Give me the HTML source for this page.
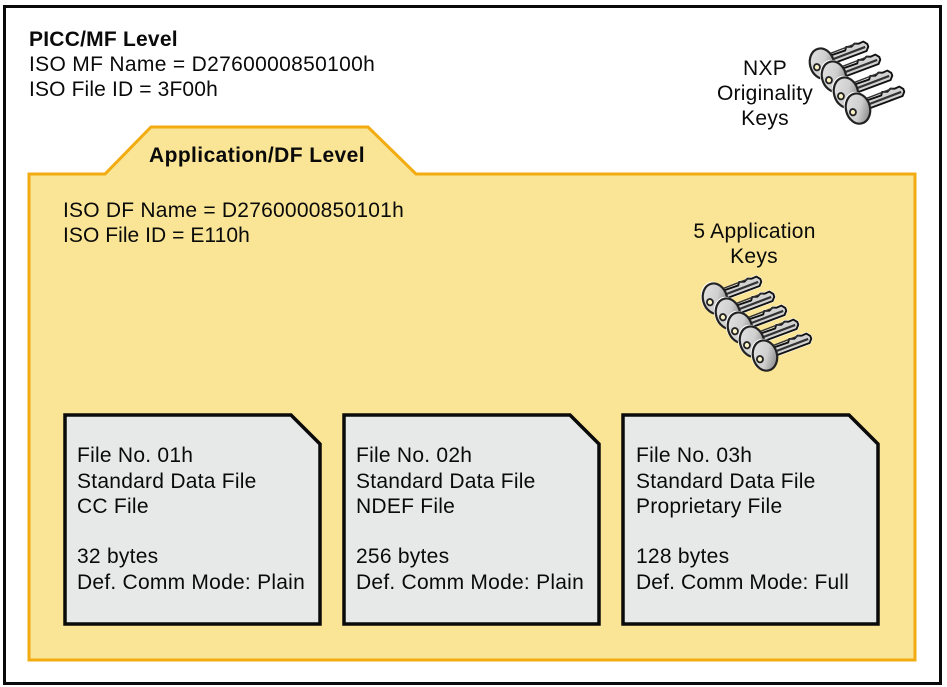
<!DOCTYPE html>
<html>
<head>
<meta charset="utf-8">
<style>
html,body{margin:0;padding:0;background:#fff;width:947px;height:687px;overflow:hidden}
svg{display:block}
text{font-family:"Liberation Sans",sans-serif;font-size:21px;letter-spacing:.25px;fill:#0a0a0a}
.b{font-weight:bold;letter-spacing:.4px}
</style>
</head>
<body>
<svg width="947" height="687" viewBox="0 0 947 687" xmlns="http://www.w3.org/2000/svg">
<defs>
<linearGradient id="hg" x1="0" y1="0" x2="1" y2="0.7">
<stop offset="0" stop-color="#e6e6e6"/>
<stop offset="0.62" stop-color="#cfcfcf"/>
<stop offset="1" stop-color="#8a8a8a"/>
</linearGradient>
<g id="key">
<path d="M8,-4 L27,-4 L29,-7 L34,-5.5 L38,-7.5 L42,-6 L47,-6.5 L50,-3 L50,0 L47,3.5 L8,4.5 Z" fill="none" stroke="#fff" stroke-width="3" stroke-linejoin="round"/>
<path d="M8,-4 L27,-4 L29,-7 L34,-5.5 L38,-7.5 L42,-6 L47,-6.5 L50,-3 L50,0 L47,3.5 L8,4.5 Z" fill="#d2d2d2" stroke="#111" stroke-width="1.9" stroke-linejoin="round"/>
<path d="M10,0.4 L47,-0.8" stroke="#333" stroke-width="2.2" fill="none"/>
<path d="M12,-6 L40,-7" stroke="#333" stroke-width="1.4" fill="none"/>
<g transform="rotate(4)">
<ellipse cx="0" cy="0" rx="13" ry="16.5" fill="#fff"/>
<ellipse cx="0.8" cy="0.8" rx="12" ry="15.3" fill="url(#hg)" stroke="#222" stroke-width="2.2"/>
<ellipse cx="-5" cy="3" rx="3" ry="3.2" fill="#fbf3c8" stroke="#222" stroke-width="1.8"/>
</g>
</g>
</defs>

<rect x="4.5" y="6.5" width="936" height="677" fill="#fff" stroke="#0a0a0a" stroke-width="3"/>

<text class="b" x="29" y="46" textLength="149">PICC/MF Level</text>
<text x="29" y="71" textLength="346">ISO MF Name = D2760000850100h</text>
<text x="29" y="96" textLength="189">ISO File ID = 3F00h</text>

<text x="765" y="75" text-anchor="middle">NXP</text>
<text x="765" y="100" text-anchor="middle">Originality</text>
<text x="765" y="125" text-anchor="middle">Keys</text>

<use href="#key" transform="translate(821,63) rotate(-19)"/>
<use href="#key" transform="translate(833,76) rotate(-19)"/>
<use href="#key" transform="translate(845,92) rotate(-19)"/>
<use href="#key" transform="translate(857,108) rotate(-19)"/>

<path d="M29,174 H105 L151,127 H368 L416,174 H915 V660 H29 Z" fill="#f9e595" stroke="#f2ab10" stroke-width="3" stroke-linejoin="miter"/>

<text class="b" x="149" y="162" textLength="216">Application/DF Level</text>
<text x="63" y="217" textLength="341">ISO DF Name = D2760000850101h</text>
<text x="63" y="242" textLength="187">ISO File ID = E110h</text>

<text x="754.500" y="238" text-anchor="middle">5 Application</text>
<text x="754" y="263" text-anchor="middle">Keys</text>

<use href="#key" transform="translate(714,298) rotate(-19)"/>
<use href="#key" transform="translate(727,313) rotate(-19)"/>
<use href="#key" transform="translate(739,327) rotate(-19)"/>
<use href="#key" transform="translate(751,341) rotate(-19)"/>
<use href="#key" transform="translate(764,355) rotate(-19)"/>

<path d="M65,415 H291 L320,444 V624 H65 Z" fill="#e7e8e8" stroke="#0a0a0a" stroke-width="3.5"/>
<path d="M344,415 H570 L599,444 V624 H344 Z" fill="#e7e8e8" stroke="#0a0a0a" stroke-width="3.5"/>
<path d="M623,415 H849 L878,444 V624 H623 Z" fill="#e7e8e8" stroke="#0a0a0a" stroke-width="3.5"/>

<text x="77" y="462">File No. 01h</text>
<text x="77" y="488">Standard Data File</text>
<text x="77" y="513">CC File</text>
<text x="77" y="563">32 bytes</text>
<text x="77" y="589" textLength="228">Def. Comm Mode: Plain</text>

<text x="356" y="462">File No. 02h</text>
<text x="356" y="488">Standard Data File</text>
<text x="356" y="513">NDEF File</text>
<text x="356" y="563">256 bytes</text>
<text x="356" y="589" textLength="228">Def. Comm Mode: Plain</text>

<text x="636" y="462">File No. 03h</text>
<text x="636" y="488">Standard Data File</text>
<text x="636" y="513">Proprietary File</text>
<text x="636" y="563">128 bytes</text>
<text x="636" y="589" textLength="213">Def. Comm Mode: Full</text>
</svg>
</body>
</html>
